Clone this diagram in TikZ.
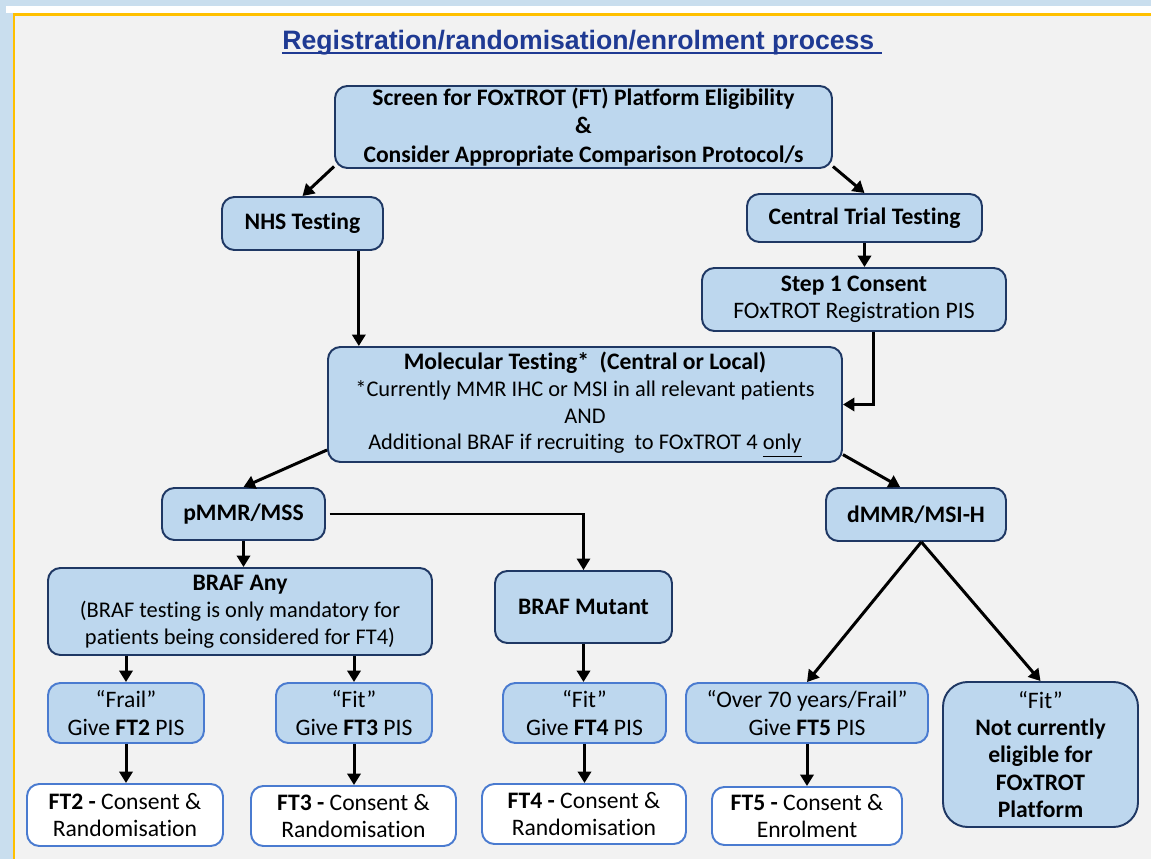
\documentclass[tikz,border=0pt]{standalone}
\usepackage{fontspec}
\setmainfont{Carlito}[Ligatures=NoCommon]
\newfontfamily\titlefont{Liberation Sans}
\usetikzlibrary{arrows.meta}
\definecolor{boxFill}{HTML}{BDD7EE}
\definecolor{boxLine}{HTML}{1F3864}
\definecolor{softLine}{HTML}{4A7BD0}
\definecolor{panelFill}{HTML}{F2F2F2}
\definecolor{frameYellow}{HTML}{FFC000}
\definecolor{titleBlue}{HTML}{1F3A93}
\definecolor{backBlue}{HTML}{C9DEEE}
\newcommand\boxHead[1]{{\fontsize{13.4}{15.5}\selectfont\bfseries #1}}

\begin{document}
\begin{tikzpicture}
[x=0.5669pt,y=-0.5669pt,%
  font=\fontsize{13.4}{15.5}\selectfont,%
  arrowDecorate/.style={-{Triangle[length=6.5pt,width=7.5pt]},line width=1.7pt},%
  boxSize/.style 2 args={minimum width=#1*0.5669pt,minimum height=#2*0.5669pt},%
  boxDecorate/.style={draw=boxLine,line width=1.1pt,fill=boxFill,rounded corners=7pt,align=center,inner sep=0pt},%
  boldDecorate/.style={boxDecorate,font=\fontsize{13.4}{15.5}\selectfont\bfseries},%
  smallDecorate/.style={boxDecorate,font=\fontsize{12.7}{15.2}\selectfont},%
  softDecorate/.style={boxDecorate,draw=softLine},%
  whiteDecorate/.style={softDecorate,fill=white}]
\useasboundingbox (0,0) rectangle (1151,859);
%% background and panel
\fill[backBlue] (0,0) rectangle (1151,859);
\fill[white] (6,6) rectangle (1151,13);
\draw[frameYellow,line width=1.7pt,fill=panelFill] (14,15) rectangle (1175,880);
\node[text=titleBlue,inner sep=0pt,anchor=base,font=\titlefont\bfseries\fontsize{15.1}{17}\selectfont] (title) at (582,50)
  {Registration/randomisation/enrolment process\ \mbox{}};
\draw[titleBlue,line width=1.1pt] ([yshift=-1.6pt]title.base west) -- ([yshift=-1.6pt]title.base east);
%% boxes
\node[boldDecorate,boxSize={497}{82}] (screen) at (583.5,127)
  {Screen for FOxTROT (FT) Platform Eligibility\\[0.6pt]\&\\[0.6pt]Consider Appropriate Comparison Protocol/s};
\node[boldDecorate,boxSize={161}{53}] (nhs) at (302.5,223.5) {NHS Testing};
\node[boldDecorate,boxSize={235}{48}] (central) at (864.5,218) {Central Trial Testing};
\node[boxDecorate,boxSize={304}{63}] (step) at (854,299.5)
  {\textbf{Step 1 Consent}\\FOxTROT Registration PIS};
\node[smallDecorate,boxSize={514}{115}] (mol) at (585,404.5)
  {\boxHead{Molecular Testing*~ (Central or Local)}\\{}*Currently MMR IHC or MSI in all relevant patients\\AND\\Additional BRAF if recruiting~ to FOxTROT 4 \underline{only}};
\node[boldDecorate,boxSize={163}{52}] (pmmr) at (243.5,514) {pMMR/MSS};
\node[boldDecorate,boxSize={180}{53}] (dmmr) at (916,514.5) {dMMR/MSI-H};
\node[smallDecorate,boxSize={384}{87}] (brafany) at (240,611.5)
  {\boxHead{BRAF Any}\\(BRAF testing is only mandatory for\\patients being considered for FT4)};
\node[boldDecorate,boxSize={177}{72}] (brafmut) at (583.5,607) {BRAF Mutant};
\node[softDecorate,boxSize={156}{60}] (frail) at (126,713) {“Frail”\\Give \textbf{FT2} PIS};
\node[softDecorate,boxSize={156}{60}] (fitthree) at (354,713) {“Fit”\\Give \textbf{FT3} PIS};
\node[softDecorate,boxSize={163}{60}] (fitfour) at (584.5,713) {“Fit”\\Give \textbf{FT4} PIS};
\node[softDecorate,boxSize={242}{60}] (overseventy) at (807,713) {“Over 70 years/Frail”\\Give \textbf{FT5} PIS};
\node[boxDecorate,rounded corners=14pt,boxSize={195}{145}] (notelig) at (1040.5,754.5)
  {“Fit”\\\textbf{Not currently}\\\textbf{eligible for}\\\textbf{FOxTROT}\\\textbf{Platform}};
\node[whiteDecorate,boxSize={196}{62}] (fttwo) at (125,815) {\textbf{FT2 -} Consent \&\\Randomisation};
\node[whiteDecorate,boxSize={205}{60}] (ftthree) at (353.5,816) {\textbf{FT3 -} Consent \&\\Randomisation};
\node[whiteDecorate,boxSize={204}{60}] (ftfour) at (584,814) {\textbf{FT4 -} Consent \&\\Randomisation};
\node[whiteDecorate,boxSize={190}{58}] (ftfive) at (807,816) {\textbf{FT5 -} Consent \&\\Enrolment};
%% connectors
\draw[arrowDecorate] (screen.189) -- (nhs.north);
\draw[arrowDecorate] (screen.351) -- (central.north);
\draw[arrowDecorate] (central.south) -- (central.south |- step.north);
\draw[arrowDecorate] (nhs.-26) -- (nhs.-26 |- mol.north);
\draw[arrowDecorate] (step.-59) |- (mol.east);
\draw[arrowDecorate] (mol.190) -- (pmmr.north);
\draw[arrowDecorate] (mol.349) -- (dmmr.120);
\draw[arrowDecorate] (pmmr.south) -- (pmmr.south |- brafany.north);
\draw[arrowDecorate,line width=1.3pt] ([xshift=2pt]pmmr.east) -| (brafmut.north);
\draw[arrowDecorate] (dmmr.-79) -- (overseventy.north);
\draw[arrowDecorate] (dmmr.-79) -- (notelig.north);
\draw[arrowDecorate] (frail.north |- brafany.south) -- (frail.north);
\draw[arrowDecorate] (fitthree.north |- brafany.south) -- (fitthree.north);
\draw[arrowDecorate] (brafmut.south) -- (brafmut.south |- fitfour.north);
\foreach \from/\to in {frail/fttwo, fitthree/ftthree, fitfour/ftfour, overseventy/ftfive}
  \draw[arrowDecorate] (\from.south) -- (\from.south |- \to.north);
\end{tikzpicture}
\end{document}
